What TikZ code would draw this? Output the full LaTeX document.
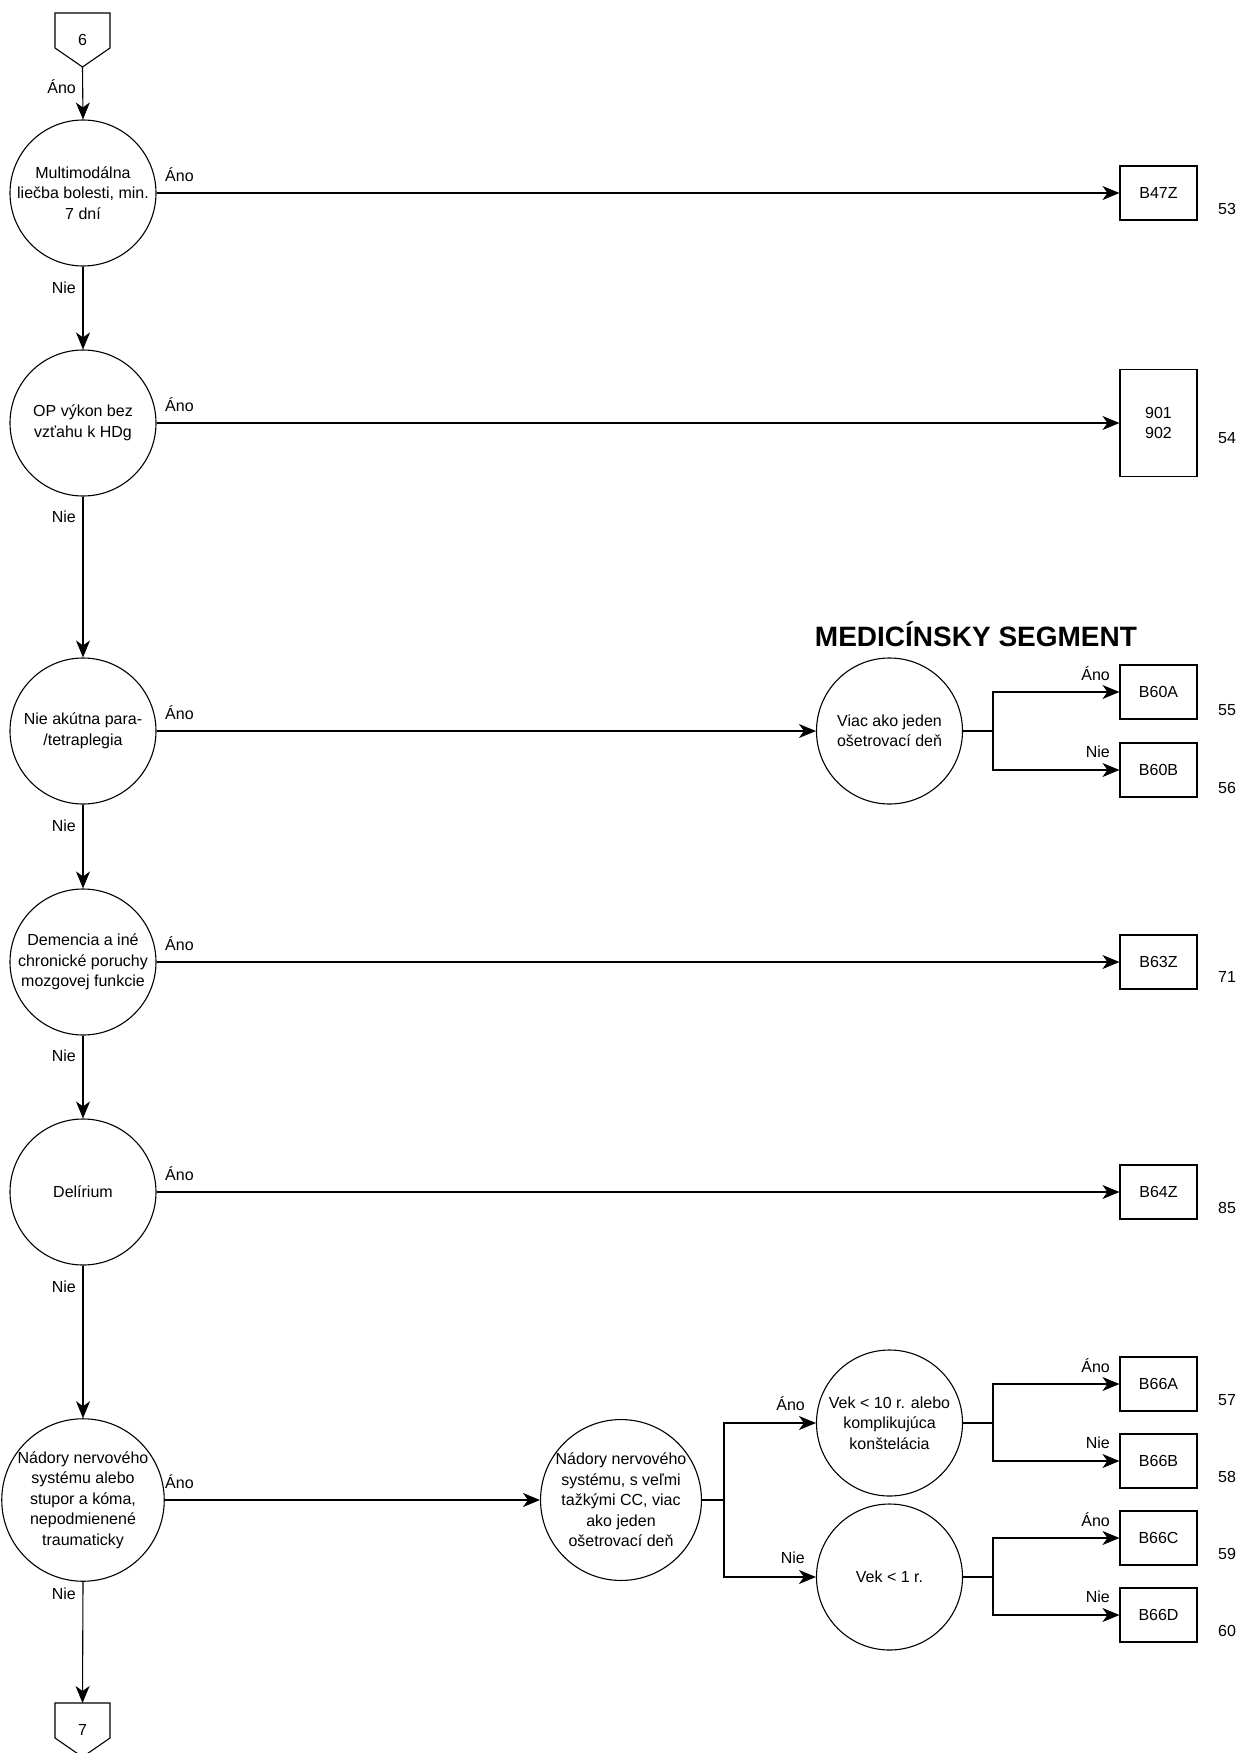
\documentclass[tikz,border=0pt]{standalone}
\usepackage{fontspec}
\setmainfont{Liberation Sans}
\usetikzlibrary{arrows.meta}
\begin{document}
\begin{tikzpicture}[x=1pt,y=-1pt,
  font=\fontsize{16}{20.5}\selectfont,
  dec/.style={circle, draw, line width=1.1pt, minimum size=146pt, inner sep=0pt, align=center},
  res/.style={draw, line width=1.1pt, minimum width=77pt, minimum height=54pt, inner sep=0pt, align=center},
  arr/.style={line width=1.1pt, -{Stealth[length=17pt,width=14pt,inset=5pt]}},
  ln/.style={line width=1.1pt},
  lbl/.style={inner sep=0pt}]
\useasboundingbox (0,0) rectangle (1242,1753);
\clip (0,0) rectangle (1242,1753);

% off-page connectors
\draw[ln] (55,13) -- (110,13) -- (110,48) -- (82.5,67) -- (55,48) -- cycle;
\node[lbl] (p6) at (82.5,40) {6};
\coordinate (p6tip) at (82.5,67);
\draw[ln] (55,1703) -- (110,1703) -- (110,1738) -- (82.5,1757) -- (55,1738) -- cycle;
\node[lbl] (p7) at (82.5,1730) {7};
\coordinate (p7top) at (82.5,1703);

% main decision column
\node[dec] (q1) at (83,193) {Multimodálna\\liečba bolesti, min.\\7 dní};
\node[dec] (q2) at (83,423) {OP výkon bez\\vzťahu k HDg};
\node[dec] (q3) at (83,731) {Nie akútna para-\\/tetraplegia};
\node[dec] (q4) at (83,962) {Demencia a iné\\chronické poruchy\\mozgovej funkcie};
\node[dec] (q5) at (83,1192) {Delírium};
\node[dec] (q6) at (83,1500) {Nádory nervového\\systému alebo\\stupor a kóma,\\nepodmienené\\traumaticky};

\draw[arr] (p6tip) -- (q1.north);
\draw[arr] (q1.south) -- (q2.north);
\draw[arr] (q2.south) -- (q3.north);
\draw[arr] (q3.south) -- (q4.north);
\draw[arr] (q4.south) -- (q5.north);
\draw[arr] (q5.south) -- (q6.north);
\draw[arr] (q6.south) -- (p7top);

\node[lbl, anchor=east] (l0) at (76,87) {Áno};
\node[lbl, anchor=east] (n1) at (76,288) {Nie};
\node[lbl, anchor=east] (n2) at (76,517) {Nie};
\node[lbl, anchor=east] (n3) at (76,826) {Nie};
\node[lbl, anchor=east] (n4) at (76,1056) {Nie};
\node[lbl, anchor=east] (n5) at (76,1287) {Nie};
\node[lbl, anchor=east] (n6) at (76,1594) {Nie};

% result boxes
\node[res] (b47z) at (1158.5,193) {B47Z};
\node[res, minimum height=107pt] (b901) at (1158.5,423) {901\\902};
\node[res] (b63z) at (1158.5,962) {B63Z};
\node[res] (b64z) at (1158.5,1192) {B64Z};

\draw[arr] (q1.east) -- (b47z.west);
\draw[arr] (q2.east) -- (b901.west);
\draw[arr] (q4.east) -- (b63z.west);
\draw[arr] (q5.east) -- (b64z.west);

\node[lbl, anchor=west] (a1) at (165,175) {Áno};
\node[lbl, anchor=west] (a2) at (165,405) {Áno};
\node[lbl, anchor=west] (a3) at (165,713) {Áno};
\node[lbl, anchor=west] (a4) at (165,944) {Áno};
\node[lbl, anchor=west] (a5) at (165,1174) {Áno};
\node[lbl, anchor=west] (a6) at (165,1482) {Áno};

\node[lbl, anchor=west] (k53) at (1218,209) {53};
\node[lbl, anchor=west] (k54) at (1218,438) {54};
\node[lbl, anchor=west] (k71) at (1218,977) {71};
\node[lbl, anchor=west] (k85) at (1218,1208) {85};

% medical segment
\node[font=\fontsize{28}{32}\selectfont\bfseries, lbl] (title) at (976,634) {MEDICÍNSKY SEGMENT};
\node[dec] (v1) at (889.5,731) {Viac ako jeden\\ošetrovací deň};
\draw[arr] (q3.east) -- (v1.west);
\node[res] (b60a) at (1158.5,692) {B60A};
\node[res] (b60b) at (1158.5,770) {B60B};
\coordinate (j1) at (993,731);
\draw[ln] (v1.east) -- (j1);
\draw[arr] (j1) |- (b60a.west);
\draw[arr] (j1) |- (b60b.west);
\node[lbl, anchor=east] (a60a) at (1110,674) {Áno};
\node[lbl, anchor=east] (a60b) at (1110,752) {Nie};
\node[lbl, anchor=west] (k55) at (1218,710) {55};
\node[lbl, anchor=west] (k56) at (1218,788) {56};

% nervous system tumours
\node[dec] (m1) at (621,1500) {Nádory nervového\\systému, s veľmi\\tažkými CC, viac\\ako jeden\\ošetrovací deň};
\draw[arr] (q6.east) -- (m1.west);
\node[dec] (m2) at (889.5,1423) {Vek < 10 r. alebo\\komplikujúca\\konštelácia};
\node[dec] (m3) at (889.5,1577) {Vek < 1 r.};
\coordinate (j2) at (724,1500);
\draw[ln] (m1.east) -- (j2);
\draw[arr] (j2) |- (m2.west);
\draw[arr] (j2) |- (m3.west);
\node[lbl, anchor=east] (am2) at (805,1404) {Áno};
\node[lbl, anchor=east] (am3) at (805,1558) {Nie};

\node[res] (b66a) at (1158.5,1384) {B66A};
\node[res] (b66b) at (1158.5,1461) {B66B};
\node[res] (b66c) at (1158.5,1538) {B66C};
\node[res] (b66d) at (1158.5,1615) {B66D};
\coordinate (j3) at (993,1423);
\coordinate (j4) at (993,1577);
\draw[ln] (m2.east) -- (j3);
\draw[arr] (j3) |- (b66a.west);
\draw[arr] (j3) |- (b66b.west);
\draw[ln] (m3.east) -- (j4);
\draw[arr] (j4) |- (b66c.west);
\draw[arr] (j4) |- (b66d.west);
\node[lbl, anchor=east] (a66a) at (1110,1366) {Áno};
\node[lbl, anchor=east] (a66b) at (1110,1443) {Nie};
\node[lbl, anchor=east] (a66c) at (1110,1520) {Áno};
\node[lbl, anchor=east] (a66d) at (1110,1597) {Nie};
\node[lbl, anchor=west] (k57) at (1218,1400) {57};
\node[lbl, anchor=west] (k58) at (1218,1477) {58};
\node[lbl, anchor=west] (k59) at (1218,1554) {59};
\node[lbl, anchor=west] (k60) at (1218,1631) {60};
\end{tikzpicture}
\end{document}
